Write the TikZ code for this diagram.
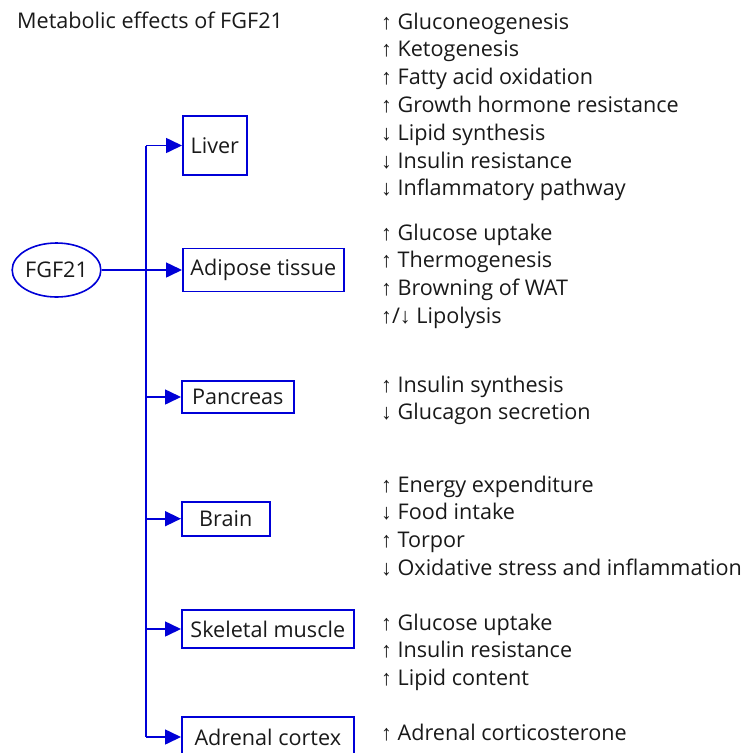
\documentclass[tikz,border=0pt]{standalone}
\usepackage{fontspec}
\setmainfont{Open Sans}
\newfontfamily\arrowfont{Liberation Sans}
\usetikzlibrary{arrows.meta,shapes.geometric}
\definecolor{fgfblue}{RGB}{0,0,215}
\definecolor{inktext}{RGB}{25,25,25}
\newcommand{\upa}{{\arrowfont ↑}}
\newcommand{\dna}{{\arrowfont ↓}}

\begin{document}
\begin{tikzpicture}[x=1pt,y=-1pt,
  organ/.style={draw=fgfblue, line width=1.6pt, font=\fontsize{21.6}{26}\selectfont, text=inktext, inner sep=0pt},
  effect/.style={anchor=base west, inner sep=0pt, font=\fontsize{21.6}{26}\selectfont, text=inktext},
  link/.style={draw=fgfblue, line width=1.6pt},
  arr/.style={link, -{Triangle[length=16pt,width=15pt]}}]
  \clip (0,0) rectangle (743,753);
  \node[effect] (title) at (17,28) {Metabolic effects of FGF21};
  % hormone and target organs
  \node[organ, ellipse, minimum width=87, minimum height=54] (fgf) at (56.5,270) {FGF21};
  \node[organ, anchor=west, minimum width=64, minimum height=59] (liver) at (182,145.5) {Liver};
  \node[organ, anchor=west, minimum width=161, minimum height=43] (adipose) at (182,270) {Adipose tissue};
  \node[organ, anchor=west, minimum width=112, minimum height=32] (pancreas) at (181,397) {Pancreas};
  \node[organ, anchor=west, minimum width=88, minimum height=34] (brain) at (181,518.7) {Brain};
  \node[organ, anchor=west, minimum width=172, minimum height=38] (muscle) at (181,629) {Skeletal muscle};
  \node[organ, anchor=west, minimum width=172, minimum height=40] (adrenal) at (181,737) {Adrenal cortex};
  % connectors
  \coordinate (spine) at (146,0);
  \draw[link] (spine |- liver.west) -- (spine |- adrenal.west);
  \foreach \n in {liver,pancreas,brain,muscle,adrenal}
    \draw[arr] (spine |- \n.west) -- (\n.west);
  \draw[arr] (fgf) -- (adipose);
  % effect lists
  \foreach \t [count=\i] in {\upa{} Gluconeogenesis, \upa{} Ketogenesis, \upa{} Fatty acid oxidation,
      \upa{} Growth hormone resistance, \dna{} Lipid synthesis, \dna{} Insulin resistance, \dna{} Inflammatory pathway}
    \node[effect] (liv\i) at (381,{29+27.8*(\i-1)}) {\t};
  \foreach \t [count=\i] in {\upa{} Glucose uptake, \upa{} Thermogenesis, \upa{} Browning of WAT, \upa/\dna{} Lipolysis}
    \node[effect] (adi\i) at (381,{240+27.8*(\i-1)}) {\t};
  \foreach \t [count=\i] in {\upa{} Insulin synthesis, \dna{} Glucagon secretion}
    \node[effect] (pan\i) at (381,{392+27.8*(\i-1)}) {\t};
  \foreach \t [count=\i] in {\upa{} Energy expenditure, \dna{} Food intake, \upa{} Torpor, \dna{} Oxidative stress and inflammation}
    \node[effect] (bra\i) at (381,{492+27.8*(\i-1)}) {\t};
  \foreach \t [count=\i] in {\upa{} Glucose uptake, \upa{} Insulin resistance, \upa{} Lipid content}
    \node[effect] (mus\i) at (381,{630+27.8*(\i-1)}) {\t};
  \node[effect] (adr1) at (381,740) {\upa{} Adrenal corticosterone};
\end{tikzpicture}
\end{document}
